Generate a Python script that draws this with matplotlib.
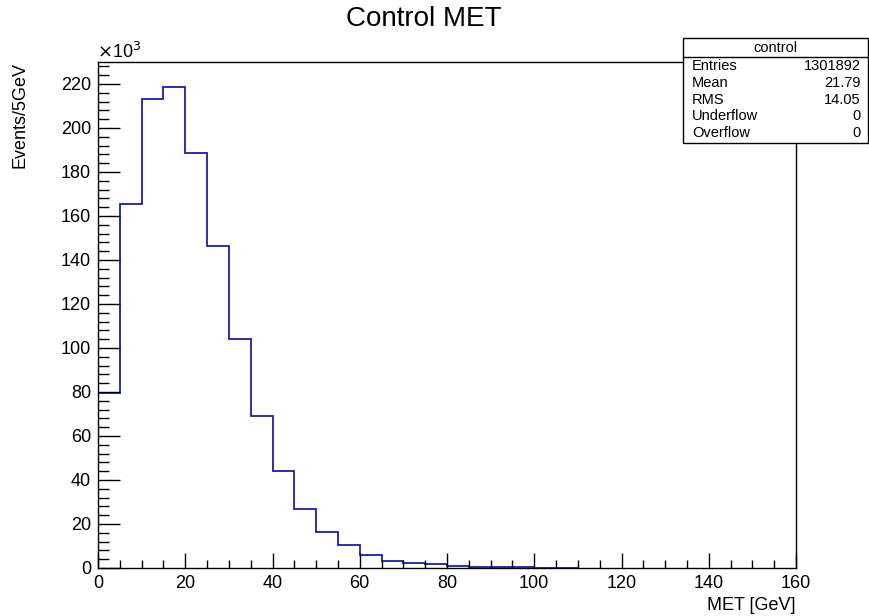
import numpy as np
import matplotlib.pyplot as plt
from matplotlib.patches import Rectangle

plt.rcParams['font.family'] = ['Liberation Sans', 'DejaVu Sans']

# MET histogram, 5 GeV bins, counts in units of 10^3
bin_edges = np.arange(0, 115, 5)
counts = [79.5, 165.5, 213.0, 218.5, 188.5, 146.5, 104.0, 69.0, 44.0, 27.0,
          16.5, 10.5, 6.0, 3.4, 2.4, 1.7, 1.0, 0.6, 0.4, 0.3, 0.2, 0.15]

stat_names = ['Entries', 'Mean', 'RMS', 'Underflow', 'Overflow']
stat_values = ['1301892', '21.79', '14.05', '0', '0']

W, H = 870, 616
fig = plt.figure(figsize=(W / 100, H / 100), dpi=100)

# axes frame in pixel units
x0, x1, y0, y1 = 98, 796, 62, 568
ax = fig.add_axes([x0 / W, 1 - y1 / H, (x1 - x0) / W, (y1 - y0) / H])

ax.stairs(counts, bin_edges, baseline=0, color='#1c1cb0', lw=1.3)

ax.set_xlim(0, 160)
ax.set_ylim(0, 230)
ax.set_xticks(np.arange(0, 161, 20))
ax.set_xticks(np.arange(0, 161, 5), minor=True)
ax.set_yticks(np.arange(0, 221, 20))
ax.set_yticks(np.arange(0, 230, 4), minor=True)

for s in ax.spines.values():
    s.set_linewidth(1.0)
ax.tick_params(axis='both', which='both', direction='in', top=False, right=False,
               labelsize=13, width=1.0)
ax.tick_params(axis='x', which='major', length=11, pad=5)
ax.tick_params(axis='x', which='minor', length=5.5)
ax.tick_params(axis='y', which='major', length=16, pad=5)
ax.tick_params(axis='y', which='minor', length=8)

fig.text(424 / W, 1 - 19 / H, 'Control MET', ha='center', va='center', fontsize=20)
fig.text(97 / W, 1 - 52 / H, r'$\times$10$^{3}$', ha='left', va='center', fontsize=13)
fig.text(20 / W, 1 - 62 / H, 'Events/5GeV', rotation=90, ha='center', va='top', fontsize=13)
fig.text(796 / W, 1 - 605 / H, 'MET [GeV]', ha='right', va='center', fontsize=13)

# statistics box
bx0, bx1, by0, by1 = 683, 868, 38, 143
fig.patches.append(Rectangle((bx0 / W, 1 - by1 / H), (bx1 - bx0) / W, (by1 - by0) / H,
                             transform=fig.transFigure, facecolor='white',
                             edgecolor='black', lw=1.0, zorder=5))
fig.add_artist(plt.Line2D([bx0 / W, bx1 / W], [1 - 57 / H, 1 - 57 / H],
                          transform=fig.transFigure, color='black', lw=1.0, zorder=6))
fig.text((bx0 + bx1) / 2 / W, 1 - 48 / H, 'control', ha='center', va='center',
         fontsize=10.5, zorder=7)
for i, (name, val) in enumerate(zip(stat_names, stat_values)):
    yy = 1 - (66 + i * 16.8) / H
    fig.text(692 / W, yy, name, ha='left', va='center', fontsize=10.5, zorder=7)
    fig.text(861 / W, yy, val, ha='right', va='center', fontsize=10.5, zorder=7)

fig.savefig('out.png', dpi=100)
